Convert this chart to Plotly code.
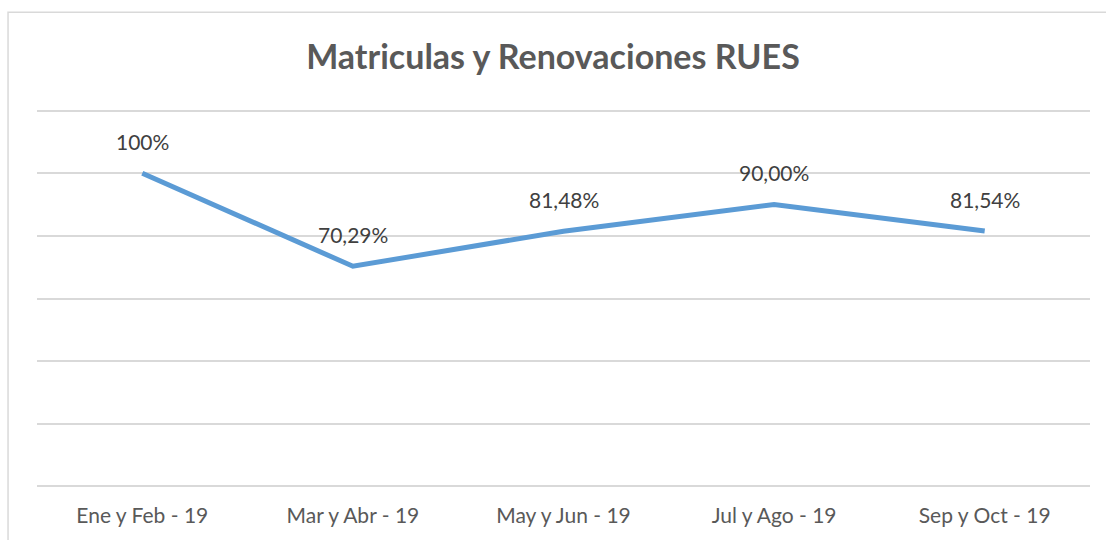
import plotly.graph_objects as go

# Data
periods = ["Ene y Feb - 19", "Mar y Abr - 19", "May y Jun - 19", "Jul y Ago - 19", "Sep y Oct - 19"]
values = [100.0, 70.29, 81.48, 90.00, 81.54]
labels = ["100%", "70,29%", "81,48%", "90,00%", "81,54%"]

fig = go.Figure()
fig.add_trace(go.Scatter(
    x=periods, y=values, mode="lines",
    line=dict(color="#5B9BD5", width=5),
    hoverinfo="skip", showlegend=False,
))

# data labels above each point
for p, v, t in zip(periods, values, labels):
    fig.add_annotation(x=p, y=v, text=t, showarrow=False, yshift=32,
                       font=dict(family="Lato", size=21, color="#404040"))

# chart frame
fig.add_shape(type="rect", xref="paper", yref="paper",
              x0=-0.0275, x1=1.03, y0=-0.2, y1=1.255,
              line=dict(color="#D9D9D9", width=1.5), layer="below")

fig.update_layout(
    width=1106, height=540,
    margin=dict(l=37, r=16, t=109, b=52),
    paper_bgcolor="white", plot_bgcolor="white",
    title=dict(text="<b>Matriculas y Renovaciones RUES</b>", x=0.5, xanchor="center",
               y=0.894, yanchor="middle",
               font=dict(family="Lato", size=34, color="#595959")),
    xaxis=dict(showgrid=False, showline=False, ticks="", zeroline=False,
               range=[-0.5, 4.5], ticklabelstandoff=13,
               tickfont=dict(family="Lato", size=21, color="#595959")),
    yaxis=dict(range=[-0.5, 120.5], tickvals=[0, 20, 40, 60, 80, 100, 120],
               showticklabels=False,
               gridcolor="#D9D9D9", gridwidth=1.5, zeroline=False, showline=False),
)

fig.write_html("out.html", config={"displayModeBar": False},
               post_script="document.body.style.margin='0';")
